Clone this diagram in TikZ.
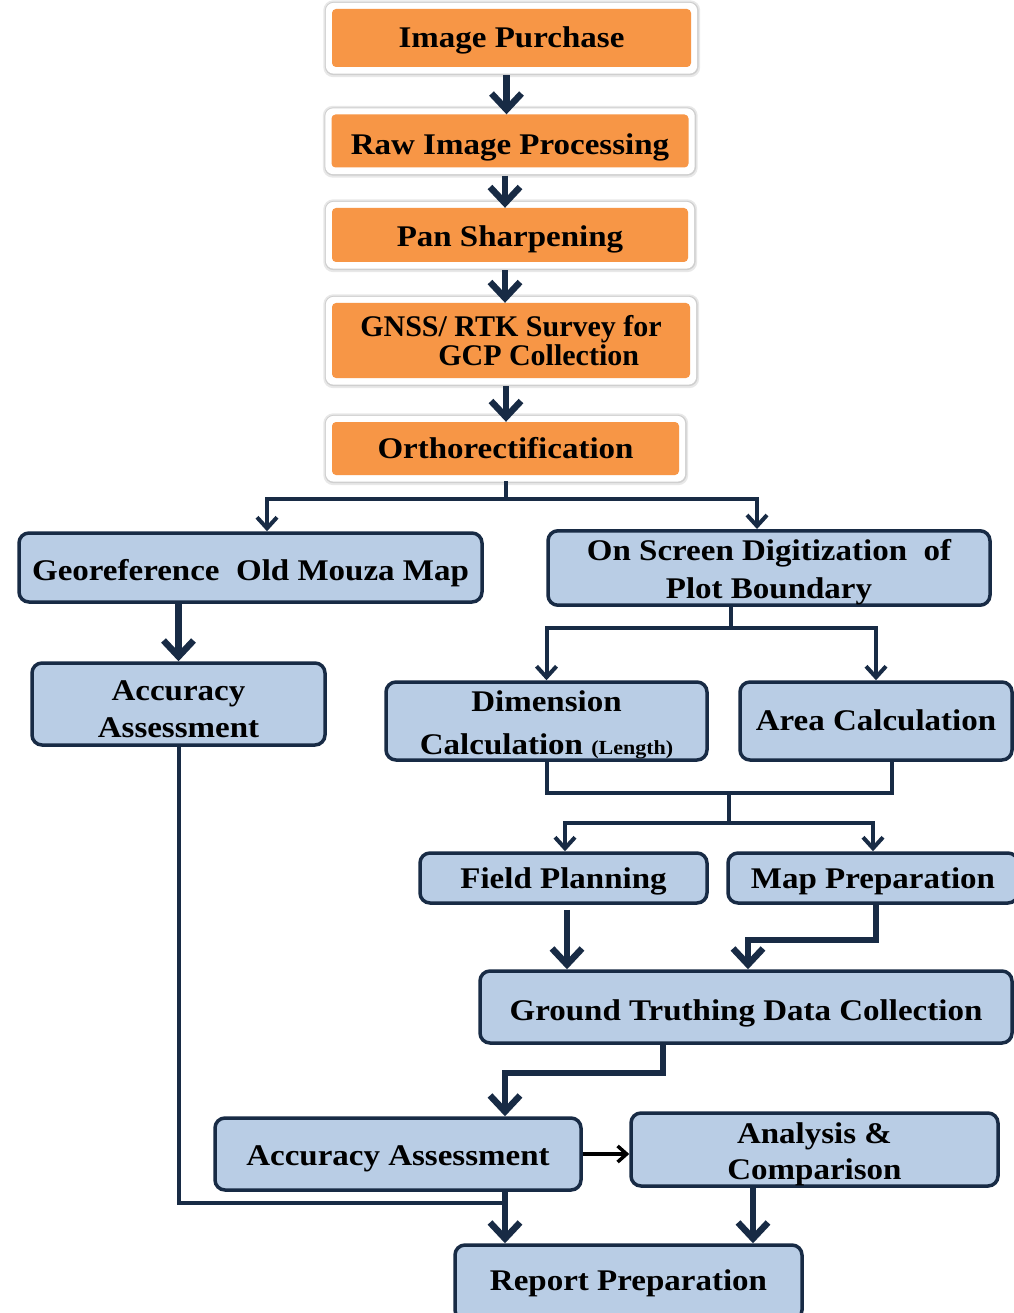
\documentclass[tikz,border=0pt]{standalone}
\usepackage{fontspec}
\setmainfont{Liberation Serif}[FakeStretch=1.10]
\newfontfamily\plainserif{Liberation Serif}
\usetikzlibrary{arrows.meta,calc,backgrounds}

\definecolor{navy}{HTML}{182B45}
\definecolor{boxorange}{HTML}{F79646}
\definecolor{boxblue}{HTML}{B9CDE5}

\newcommand\boxfont{\fontsize{30}{37}\selectfont\bfseries}
% invisible strut that lowers the first line of a multi-line label
\newcommand\topstrut[1]{\rule{0pt}{#1}}

\tikzset{
  orangebox/.style={fill=boxorange, rounded corners=4pt, inner sep=0pt,
    align=center, font=\boxfont},
  bluebox/.style={draw=navy, fill=boxblue, line width=3.5pt, rounded corners=10pt,
    inner sep=0pt, align=center, font=\boxfont},
  oneline/.style={text height=#1, text depth=0pt},
  thinlink/.style={draw=navy, line width=4pt},
  thinarrow/.style={thinlink, -{Straight Barb[length=11pt,width=20pt]}},
  thicklink/.style={draw=navy, line width=6.5pt},
  thickarrow/.style={thicklink, -{Straight Barb[length=16pt,width=30pt]}},
}

% white halo with a soft grey rim behind an orange step
\newcommand\halo[1]{%
  \begin{scope}[on background layer]
    \fill[gray!18, rounded corners=10pt]
      ($(#1.south west)+(-8.5pt,-10pt)$) rectangle ($(#1.north east)+(9pt,8.5pt)$);
    \fill[gray!38, rounded corners=9pt]
      ($(#1.south west)+(-7pt,-8pt)$) rectangle ($(#1.north east)+(7.5pt,7pt)$);
    \fill[white, rounded corners=8pt]
      ($(#1.south west)+(-6pt,-6.5pt)$) rectangle ($(#1.north east)+(6pt,6pt)$);
  \end{scope}}

\begin{document}
\begin{tikzpicture}[x=1pt,y=-1pt]
\useasboundingbox (0,0) rectangle (1013,1313);
\begin{scope}[on background layer]
  \fill[white] (0,0) rectangle (1013,1313);
\end{scope}

% ---- image preparation chain ----
\node[orangebox, oneline=20pt, minimum width=359pt, minimum height=58pt] (o1) at (511.5,38) {Image Purchase};
\node[orangebox, oneline=27pt, minimum width=357pt, minimum height=53pt] (o2) at (510,141) {Raw Image Processing};
\node[orangebox, oneline=24pt, minimum width=356pt, minimum height=54pt] (o3) at (510,235) {Pan Sharpening};
\node[orangebox, minimum width=358pt, minimum height=75pt, align=left,
      font=\plainserif\fontsize{30}{27}\selectfont\bfseries] (o4) at (511,340.5)
      {GNSS/ RTK Survey for\\\hspace*{78pt}GCP Collection};
\node[orangebox, oneline=19pt, minimum width=347pt, minimum height=53pt] (o5) at (505.5,448.5) {Orthorectification};
\foreach \n in {o1,o2,o3,o4,o5} {\halo{\n}}

% ---- processing and field steps ----
\node[bluebox, oneline=25pt, minimum width=463pt, minimum height=69pt] (b1) at (250.5,567.5) {Georeference\ \ Old Mouza Map};
\node[bluebox, minimum width=442pt, minimum height=70pt,
      font=\fontsize{30}{38}\selectfont\bfseries] (b2) at (769,568)
      {\topstrut{30pt}On Screen Digitization\ \ of\\Plot Boundary};
\node[bluebox, minimum width=293pt, minimum height=82pt] (b3) at (178.5,704)
      {\topstrut{30pt}Accuracy\\Assessment};
\node[bluebox, minimum width=321pt, minimum height=78pt,
      font=\fontsize{30}{43}\selectfont\bfseries] (b4) at (546.5,721)
      {\topstrut{28pt}Dimension\\Calculation\ {\fontsize{20}{20}\selectfont(Length)}};
\node[bluebox, oneline=18pt, minimum width=272pt, minimum height=78pt] (b5) at (876,721) {Area Calculation};
\node[bluebox, oneline=20pt, minimum width=287pt, minimum height=50pt] (b6) at (563.5,878) {Field Planning};
\node[bluebox, oneline=20pt, minimum width=290pt, minimum height=50pt] (b7) at (873,878) {Map Preparation};
\node[bluebox, oneline=26pt, minimum width=532pt, minimum height=72pt] (b8) at (746,1007) {Ground Truthing Data Collection};
\node[bluebox, oneline=22pt, minimum width=366pt, minimum height=72pt] (b9) at (398,1154) {Accuracy Assessment};
\node[bluebox, minimum width=367pt, minimum height=73pt,
      font=\fontsize{30}{36}\selectfont\bfseries] (b10) at (814.5,1149.5)
      {\topstrut{30pt}Analysis \&\\Comparison};
\node[bluebox, oneline=16pt, minimum width=347pt, minimum height=75pt] (b11) at (628.5,1282.5) {Report Preparation};

% ---- chain arrows ----
\foreach \a/\b in {o1/o2,o2/o3,o3/o4,o4/o5}
  \draw[thickarrow] ([xshift=-5pt,yshift=-8pt]\a.south) coordinate (s) -- (s |- \b.north);

% ---- split after orthorectification ----
\coordinate (split1) at (505,499);
\draw[thinlink] ([yshift=-6pt]o5.south) -- (o5.south |- split1);
\draw[thinarrow] (split1) -| ([xshift=16.5pt]b1.north);
\draw[thinarrow] (split1) -| ([xshift=-12pt]b2.north);

\draw[thickarrow] (b3.north |- b1.south) -- (b3.north);

% ---- split after digitization ----
\coordinate (split2) at (731,628);
\draw[thinlink] (b2.south -| split2) -- (split2);
\draw[thinarrow] (split2) -| (b4.north);
\draw[thinarrow] (split2) -| (b5.north);

% ---- merge of the calculations ----
\coordinate (merge1) at (729,793);
\coordinate (split3) at (729,823);
\draw[thinlink] (b4.south) |- (merge1) -| ([xshift=16pt]b5.south);
\draw[thinlink] (merge1) -- (split3);
\draw[thinarrow] (split3) -| ([xshift=1.5pt]b6.north);
\draw[thinarrow] (split3) -| (b7.north);

% ---- into ground truthing ----
\draw[thickarrow] ([xshift=3.5pt,yshift=-5pt]b6.south) coordinate (s) -- (s |- b8.north);
\coordinate (bend1) at (748,940);
\draw[thickarrow] ([xshift=3pt]b7.south) |- (bend1) -- (bend1 |- b8.north);

% ---- to accuracy assessment ----
\coordinate (bend2) at (584,1073);
\draw[thickarrow] ([xshift=-83pt]b8.south) |- (bend2) -| ([xshift=107pt]b9.north);

\draw[black, line width=3.5pt, -{Straight Barb[length=9pt,width=16pt]}]
  (b9.east) -- (b9.east -| b10.west);

% ---- left return line ----
\coordinate (bend3) at (505,1203);
\draw[thinlink] (b3.south) |- (bend3);

% ---- to report ----
\draw[thickarrow] ([xshift=107pt]b9.south) coordinate (s) -- (s |- b11.north);
\draw[thickarrow] ([xshift=-61.5pt]b10.south) coordinate (s) -- (s |- b11.north);
\end{tikzpicture}
\end{document}
